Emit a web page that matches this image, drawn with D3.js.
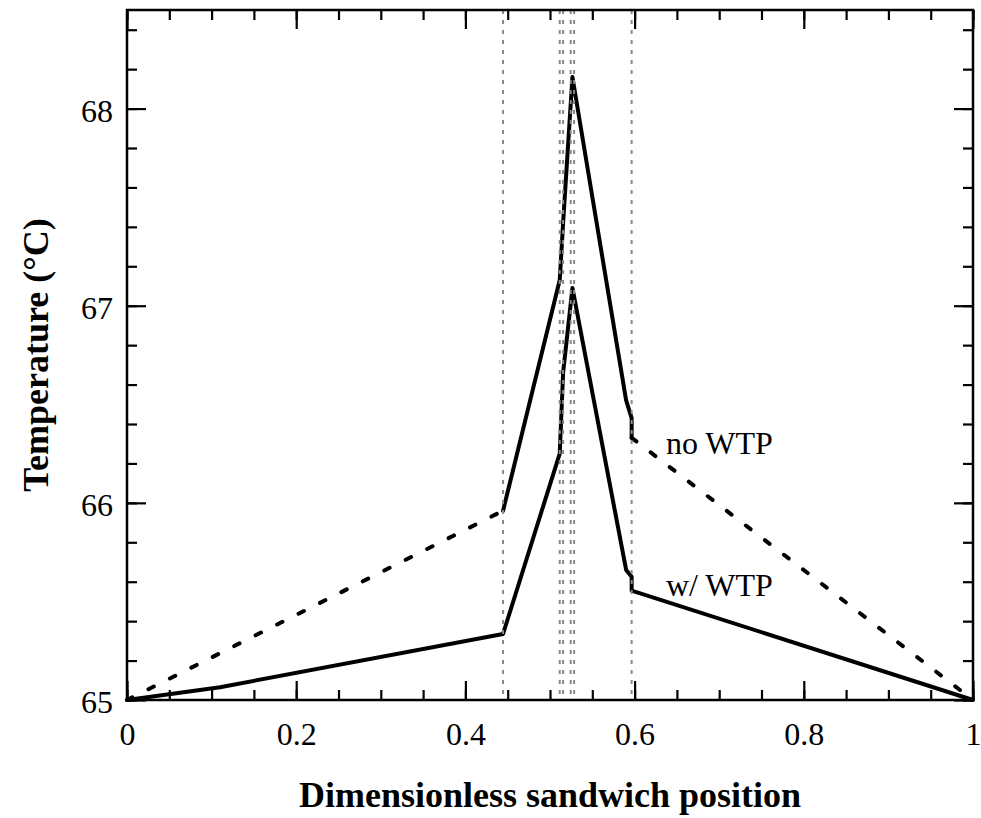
<!DOCTYPE html>
<html>
<head>
<meta charset="utf-8">
<script src="https://cdn.jsdelivr.net/npm/d3@7"></script>
<style>
    body { margin: 0; background: #fff; }
    svg text { font-family: "Liberation Serif", "Times New Roman", serif; }
</style>
</head>
<body>
<div id="chart"></div>
<script>
// layer interfaces (dimensionless position)
const layerBounds = [0.4445, 0.5115, 0.5155, 0.5245, 0.5285, 0.5965];

// no WTP curve
const noWtpX = [0, 0.4445, 0.5115, 0.5155, 0.5265, 0.590, 0.5965, 0.5965, 1];
const noWtpT = [65, 65.96, 67.13, 67.42, 68.16, 66.52, 66.43, 66.33, 65];

// w/ WTP curve
const wWtpX = [0, 0.11, 0.4445, 0.5115, 0.5155, 0.5265, 0.590, 0.5965, 0.5965, 1];
const wWtpT = [65, 65.065, 65.335, 66.25, 66.66, 67.09, 65.66, 65.625, 65.555, 65];

const xLabels = ['0', '0.2', '0.4', '0.6', '0.8', '1'];
const yLabels = ['65', '66', '67', '68'];

const curveLabels = [
    { text: 'no WTP', x: 0.637, t: 66.25 },
    { text: 'w/ WTP', x: 0.637, t: 65.53 }
];

function drawChart() {
    const W = 981, H = 818;
    const margin = { top: 10, right: 8, bottom: 118, left: 127 };
    const width = W - margin.left - margin.right;
    const height = H - margin.top - margin.bottom;

    const svg = d3.select('#chart').append('svg')
        .attr('width', W)
        .attr('height', H);

    const g = svg.append('g')
        .attr('transform', `translate(${margin.left},${margin.top})`);

    const x = d3.scaleLinear().domain([0, 1]).range([0, width]);
    const y = d3.scaleLinear().domain([65, 68.5]).range([height, 0]);

    const line = d3.line()
        .x(d => x(d[0]))
        .y(d => y(d[1]));

    const noWtp = noWtpX.map((v, i) => [v, noWtpT[i]]);
    const wWtp = wWtpX.map((v, i) => [v, wWtpT[i]]);

    // curves
    const n = noWtp.length;
    [noWtp.slice(0, 2), noWtp.slice(n - 2)].forEach(seg => {
        g.append('path')
            .attr('d', line(seg))
            .attr('fill', 'none')
            .attr('stroke', '#000')
            .attr('stroke-width', 4)
            .attr('stroke-linecap', 'round')
            .attr('stroke-dasharray', '6,18');
    });
    g.append('path')
        .attr('d', line(noWtp.slice(1, n - 1)))
        .attr('fill', 'none')
        .attr('stroke', '#000')
        .attr('stroke-width', 4)
        .attr('stroke-linejoin', 'round')
        .attr('stroke-linecap', 'round');
    g.append('path')
        .attr('d', line(wWtp))
        .attr('fill', 'none')
        .attr('stroke', '#000')
        .attr('stroke-width', 4)
        .attr('stroke-linejoin', 'round')
        .attr('stroke-linecap', 'round');

    // layer interfaces
    g.selectAll('.layer')
        .data(layerBounds)
        .enter()
        .append('line')
        .attr('x1', d => x(d))
        .attr('x2', d => x(d))
        .attr('y1', 0)
        .attr('y2', height)
        .attr('stroke', '#888')
        .attr('stroke-width', 2)
        .attr('stroke-dasharray', '4,6');

    // axes
    function styleAxis(sel, labels) {
        sel.select('.domain').remove();
        sel.selectAll('line').attr('stroke', '#000').attr('stroke-width', 2.2);
        if (labels) {
            sel.selectAll('text')
                .style('font-size', '32px')
                .attr('fill', '#000');
        } else {
            sel.selectAll('text').remove();
        }
    }

    const xMinor = x.ticks(20);
    const xMajor = x.ticks(5);
    const yMinor = y.ticks(18);
    const yMajor = y.ticks(4);

    g.append('g').attr('transform', `translate(0,${height})`)
        .call(d3.axisBottom(x).tickValues(xMinor).tickSize(-10))
        .call(s => styleAxis(s, false));
    g.append('g').attr('transform', `translate(0,${height})`)
        .call(d3.axisBottom(x).tickValues(xMajor).tickSize(-19).tickPadding(22)
            .tickFormat((d, i) => xLabels[i]))
        .call(s => styleAxis(s, true));

    g.append('g')
        .call(d3.axisTop(x).tickValues(xMinor).tickSize(-10))
        .call(s => styleAxis(s, false));
    g.append('g')
        .call(d3.axisTop(x).tickValues(xMajor).tickSize(-19))
        .call(s => styleAxis(s, false));

    g.append('g')
        .call(d3.axisLeft(y).tickValues(yMinor).tickSize(-10))
        .call(s => styleAxis(s, false));
    const yAx = g.append('g')
        .call(d3.axisLeft(y).tickValues(yMajor).tickSize(-19).tickPadding(14)
            .tickFormat((d, i) => yLabels[i]))
        .call(s => styleAxis(s, true));
    yAx.selectAll('text').attr('dy', '0.39em');

    g.append('g').attr('transform', `translate(${width},0)`)
        .call(d3.axisRight(y).tickValues(yMinor).tickSize(-10))
        .call(s => styleAxis(s, false));
    g.append('g').attr('transform', `translate(${width},0)`)
        .call(d3.axisRight(y).tickValues(yMajor).tickSize(-19))
        .call(s => styleAxis(s, false));

    // frame
    g.append('rect')
        .attr('x', 0)
        .attr('y', 0)
        .attr('width', width)
        .attr('height', height)
        .attr('fill', 'none')
        .attr('stroke', '#000')
        .attr('stroke-width', 2.5);

    // curve labels
    g.selectAll('.curve-label')
        .data(curveLabels)
        .enter()
        .append('text')
        .attr('x', d => x(d.x))
        .attr('y', d => y(d.t))
        .text(d => d.text)
        .style('font-size', '32px')
        .attr('fill', '#000');

    // axis titles
    svg.append('text')
        .attr('x', margin.left + width / 2)
        .attr('y', 807)
        .attr('text-anchor', 'middle')
        .style('font-size', '36px')
        .style('font-weight', 'bold')
        .text('Dimensionless sandwich position');

    svg.append('text')
        .attr('transform', `translate(48,${margin.top + height / 2}) rotate(-90)`)
        .attr('text-anchor', 'middle')
        .style('font-size', '36px')
        .style('font-weight', 'bold')
        .text('Temperature (°C)');
}

document.addEventListener('DOMContentLoaded', drawChart);
</script>
</body>
</html>
